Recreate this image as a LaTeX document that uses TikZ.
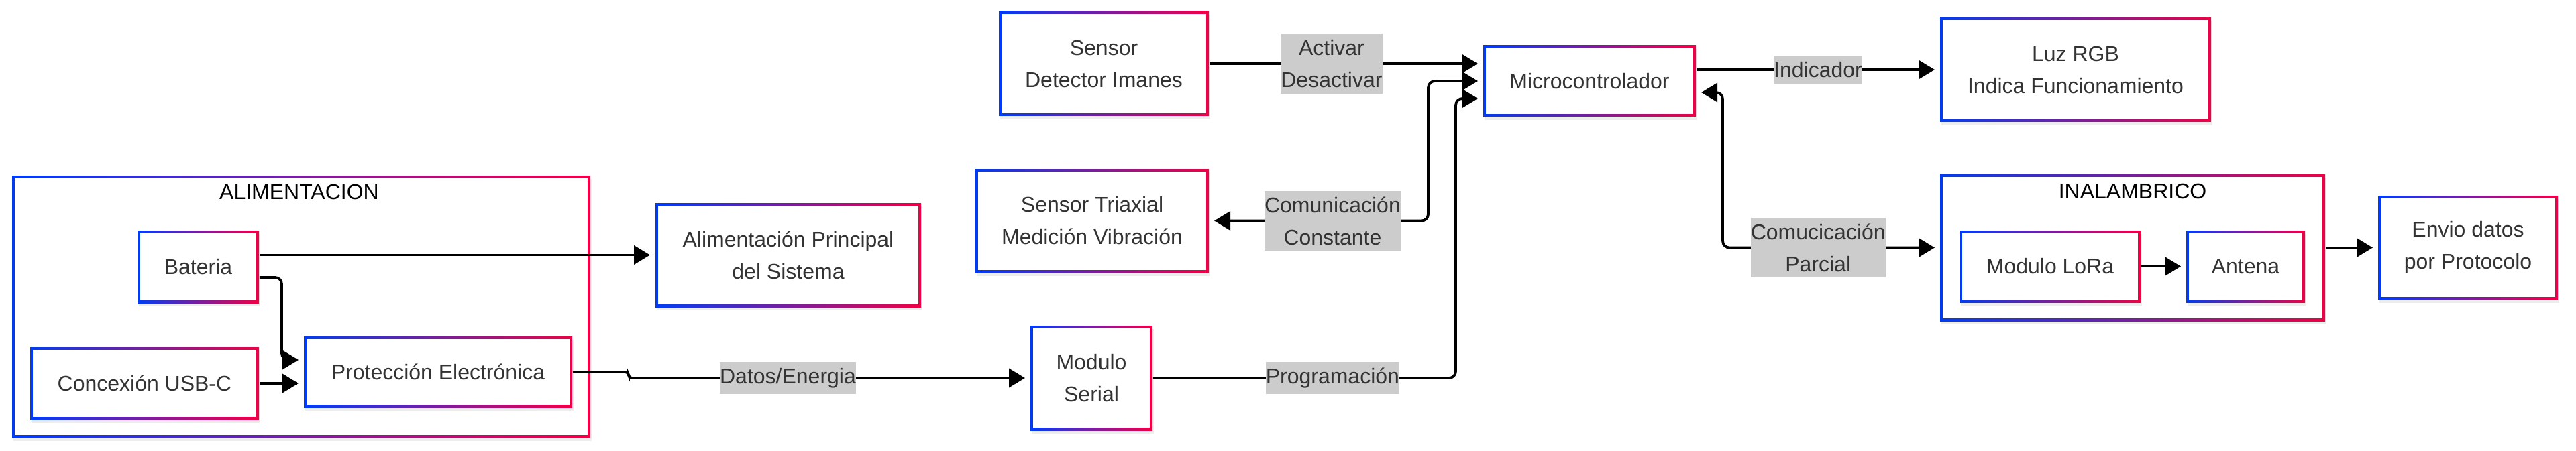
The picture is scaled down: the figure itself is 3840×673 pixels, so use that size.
\documentclass[tikz,border=0pt]{standalone}
\usepackage{fontspec}
\setmainfont{Liberation Sans}
\usetikzlibrary{arrows.meta,calc}
\definecolor{gblue}{RGB}{0,60,245}
\definecolor{gred}{RGB}{240,0,70}
\definecolor{txt}{RGB}{51,51,51}
\definecolor{lblgray}{RGB}{204,204,204}
\tikzset{
  boxtext/.style={inner sep=0pt, align=center, text=txt, font=\fontsize{8}{12}\selectfont},
  lbl/.style={sharp corners, fill=lblgray, inner xsep=0pt, inner ysep=2.2pt, align=center, text=txt, font=\fontsize{8}{12}\selectfont},
  ttl/.style={inner sep=0pt, text=black, font=\fontsize{8}{12}\selectfont},
  conn/.style={line width=0.95pt, rounded corners=2.5pt},
  arr/.style={conn, -{Triangle[length=6pt,width=7pt]}, shorten >=1.8pt},
  arrboth/.style={conn, {Triangle[length=6pt,width=7pt]}-{Triangle[length=6pt,width=7pt]}, shorten >=1.8pt, shorten <=1.8pt},
}
\newcommand\gbox[6]{%
  \fill[black,opacity=0.07] (#2+2,#3+5) rectangle (#4+2,#5+5);
  \shade[left color=gblue,right color=gred] (#2,#3) rectangle (#4,#5);
  \fill[white] (#2+4,#3+4) rectangle (#4-4,#5-4);
  \node[boxtext, minimum width={(#4-#2)*0.25pt}, minimum height={(#5-#3)*0.25pt}] (#1) at ({(#2+#4)/2},{(#3+#5)/2}) {#6};
}
\begin{document}
\begin{tikzpicture}[x=0.25pt,y=-0.25pt]
\useasboundingbox (0,0) rectangle (3840,673);
% containers and boxes
\gbox{alim}{18}{262}{880}{653}{}
\node[ttl] (talim) at (446,286) {ALIMENTACION};
\gbox{bt}{205}{344}{386}{452}{Bateria}
\gbox{usb}{45}{518}{386}{626}{Concexión USB-C}
\gbox{pe}{453}{502}{853}{608}{Protección Electrónica}
\gbox{ap}{977}{303}{1373}{458}{Alimentación Principal\\del Sistema}
\gbox{sd}{1489}{17}{1802}{173}{Sensor\\Detector Imanes}
\gbox{st}{1454}{252}{1802}{407}{Sensor Triaxial\\Medición Vibración}
\gbox{ms}{1536}{486}{1718}{642}{Modulo\\Serial}
\gbox{mc}{2211}{68}{2528}{174}{Microcontrolador}
\gbox{lz}{2892}{26}{3296}{182}{Luz RGB\\Indica Funcionamiento}
\gbox{inal}{2892}{260}{3466}{479}{}
\node[ttl] (tinal) at (3179,285) {INALAMBRICO};
\gbox{lora}{2921}{344}{3191}{451}{Modulo LoRa}
\gbox{ant}{3259}{344}{3436}{451}{Antena}
\gbox{env}{3545}{292}{3813}{447}{Envio datos\\por Protocolo}
% helper coordinates (x positions of vertical runs)
\coordinate (c1) at (2129,0);
\coordinate (c2) at (2170,0);
\coordinate (c3) at (2568,0);
\coordinate (c4) at (420,0);
\coordinate (c5) at (937,0);
% connectors
\draw[arr] (sd.east) -- node[lbl,pos=0.447]{Activar\\Desactivar} (sd.east -| mc.west);
\draw[arrboth] (st.east) -- node[lbl,pos=0.563]{Comunicación\\Constante} (st.east -| c1) |- (mc.west);
\draw[arr] (ms.east) -- node[lbl,pos=0.593]{Programación} (ms.east -| c2) |- ($(mc.west)+(0,26)$);
\draw[arr] (lz.west -| mc.east) -- node[lbl,pos=0.5]{Indicador} (lz.west);
\draw[arrboth] ($(mc.east)+(0,17)$) -| (c3 |- inal.west) -- node[lbl,pos=0.44]{Comucicación\\Parcial} (inal.west);
\draw[arr] (lora.east) -- (ant.west);
\draw[arr] (inal.east) -- (env.west);
\draw[arr] (ap.west -| bt.east) -- (ap.west);
\draw[arr] ($(bt.east)+(0,16)$) -| (c4 |- 0,537) -- ($(pe.west)+(0,-18)$);
\draw[arr] (usb.east) -- (usb.east -| pe.west);
\draw[arr, rounded corners=1.2pt] (pe.east) -| (c5 |- ms.west) -- node[lbl,pos=0.397]{Datos/Energia} (ms.west);
\end{tikzpicture}
\end{document}
